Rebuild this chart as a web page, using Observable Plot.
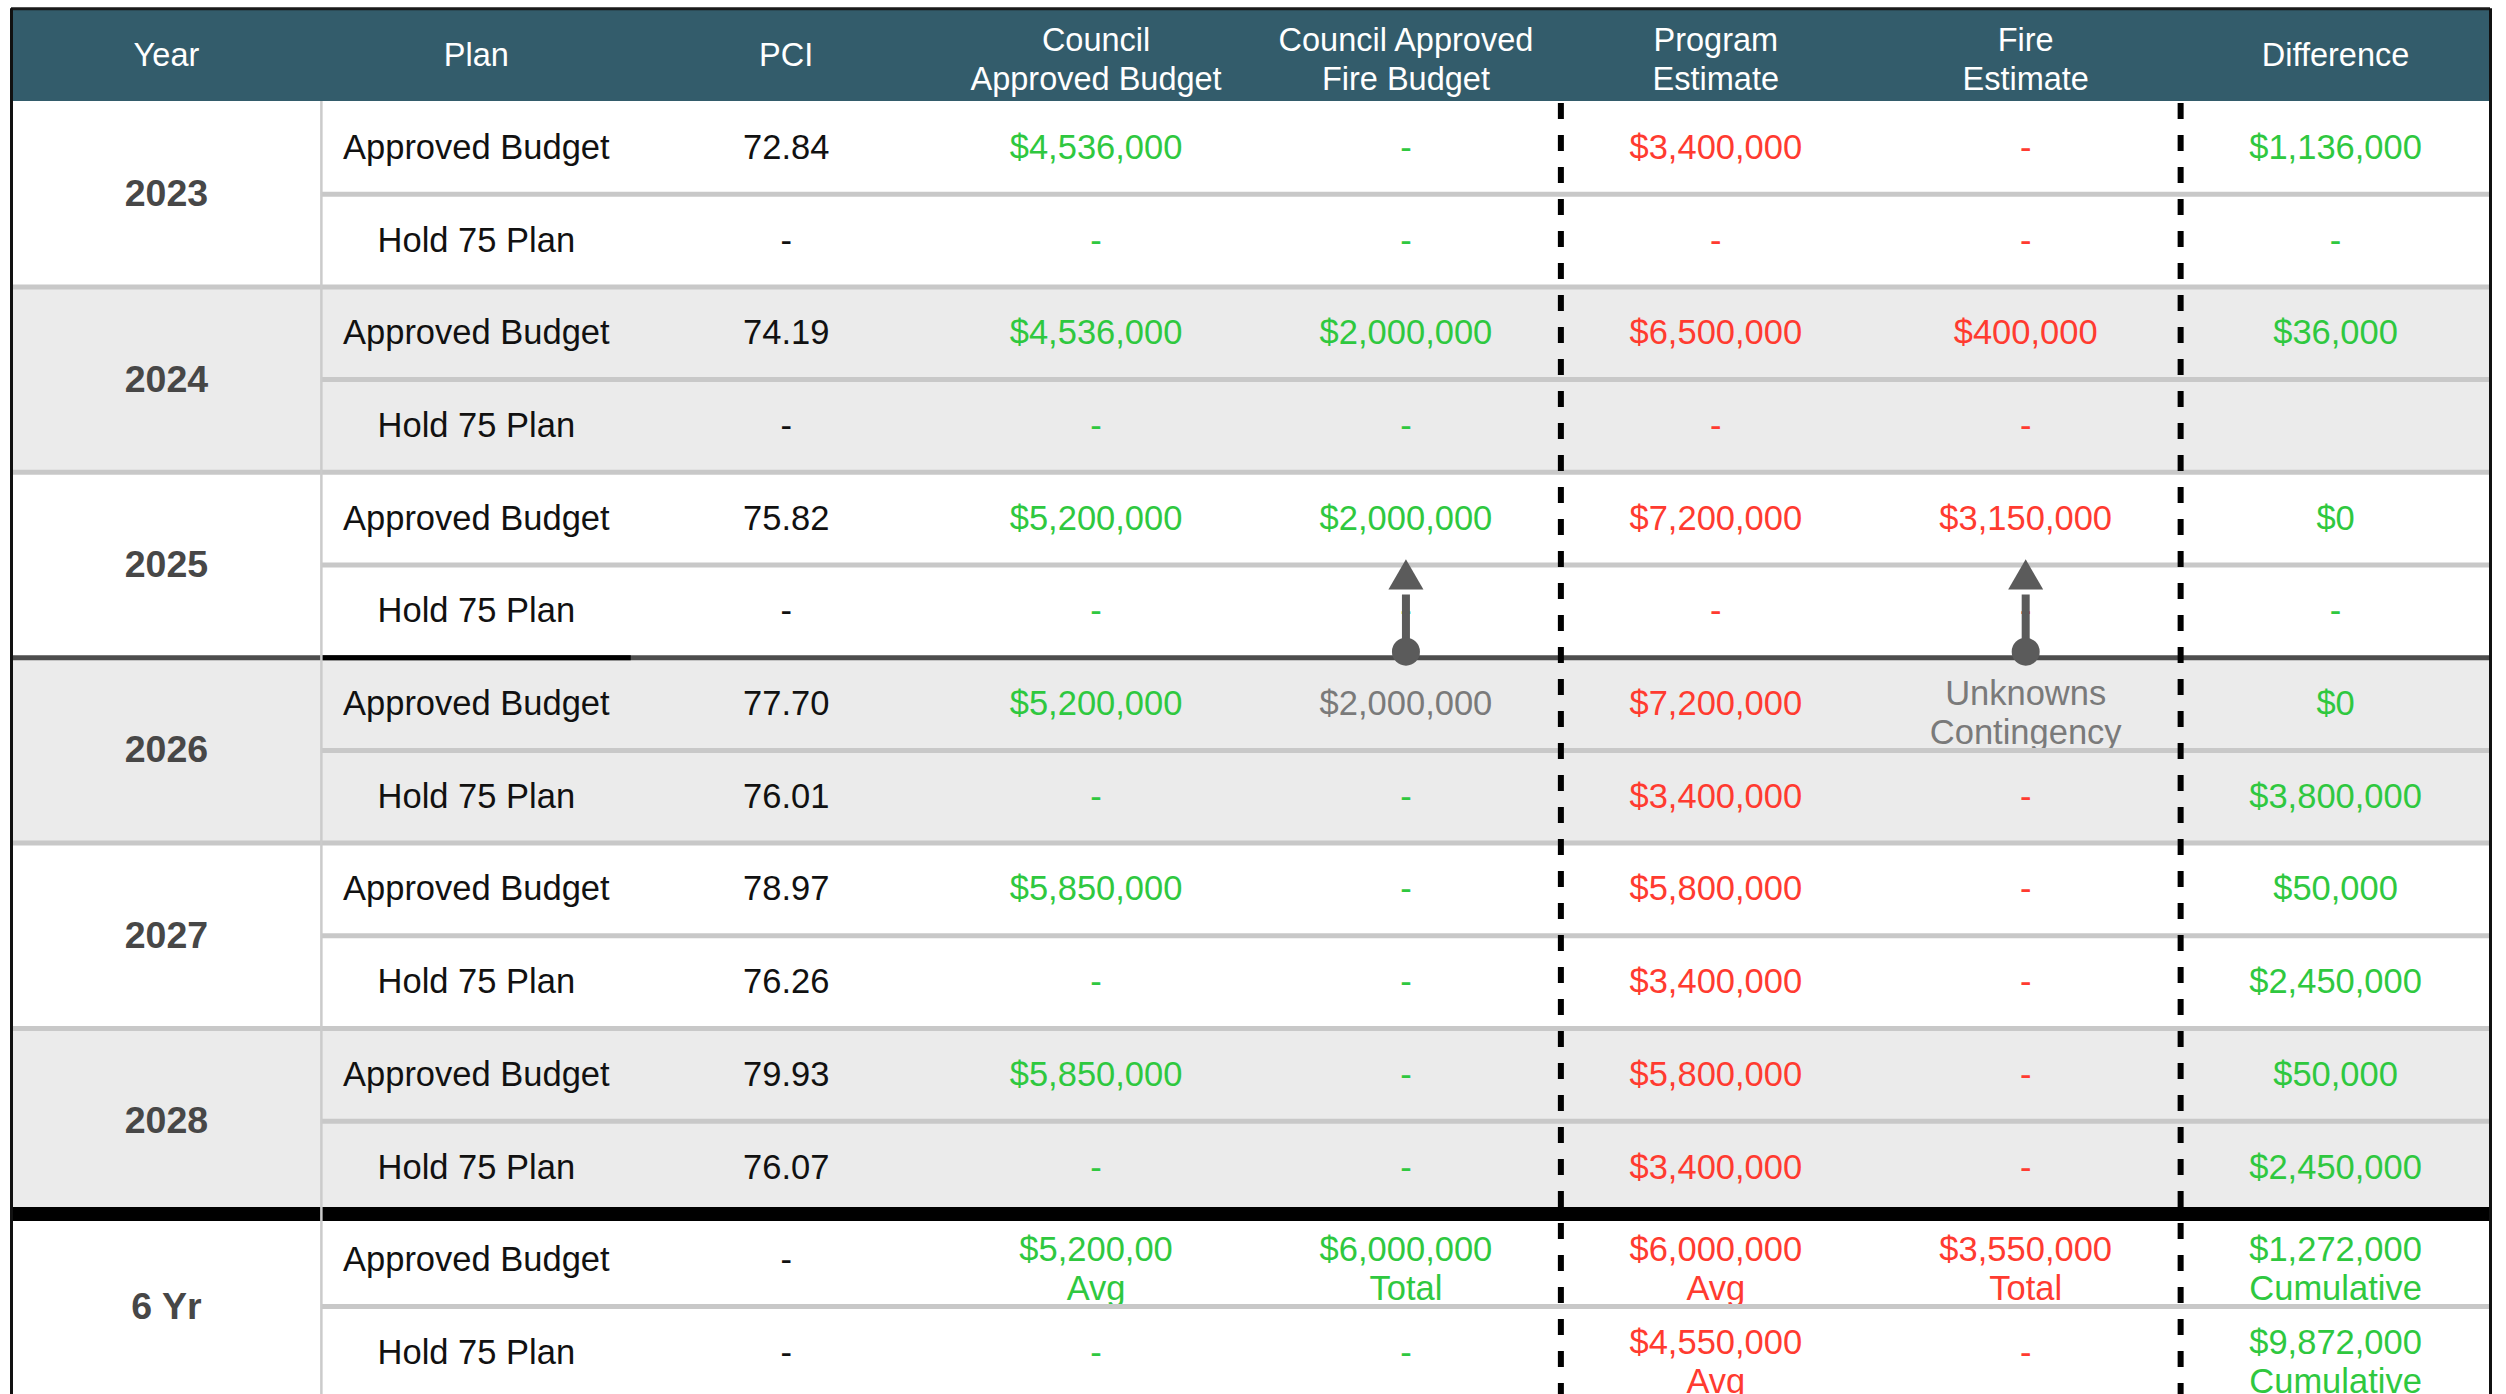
<!DOCTYPE html>
<html>
<head>
<meta charset="utf-8">
<script src="https://cdn.jsdelivr.net/npm/d3@7"></script>
<script src="https://cdn.jsdelivr.net/npm/@observablehq/plot@0.6"></script>
<style>
html, body { margin: 0; padding: 0; background: #ffffff; overflow: hidden; }
#chart svg { display: block; }
</style>
</head>
<body>
<div id="chart"></div>
<script>
// ---------------- DATA ----------------
const columns = [
  "Year", "Plan", "PCI",
  "Council\nApproved Budget", "Council Approved\nFire Budget",
  "Program\nEstimate", "Fire\nEstimate", "Difference"
];
const years = ["2023", "2024", "2025", "2026", "2027", "2028", "6 Yr"];
const plans = ["Approved Budget", "Hold 75 Plan"];

// one entry per row: [2023 Approved, 2023 Hold, 2024 Approved, 2024 Hold, ...]
const pci = ["72.84", "-", "74.19", "-", "75.82", "-", "77.70", "76.01", "78.97", "76.26", "79.93", "76.07", "-", "-"];
const councilBudget = ["$4,536,000", "-", "$4,536,000", "-", "$5,200,000", "-", "$5,200,000", "-", "$5,850,000", "-", "$5,850,000", "-", "$5,200,00\nAvg", "-"];
const councilFireBudget = ["-", "-", "$2,000,000", "-", "$2,000,000", "-", "$2,000,000", "-", "-", "-", "-", "-", "$6,000,000\nTotal", "-"];
const programEstimate = ["$3,400,000", "-", "$6,500,000", "-", "$7,200,000", "-", "$7,200,000", "$3,400,000", "$5,800,000", "$3,400,000", "$5,800,000", "$3,400,000", "$6,000,000\nAvg", "$4,550,000\nAvg"];
const fireEstimate = ["-", "-", "$400,000", "-", "$3,150,000", "-", "Unknowns\nContingency", "-", "-", "-", "-", "-", "$3,550,000\nTotal", "-"];
const difference = ["$1,136,000", "-", "$36,000", "", "$0", "-", "$0", "$3,800,000", "$50,000", "$2,450,000", "$50,000", "$2,450,000", "$1,272,000\nCumulative", "$9,872,000\nCumulative"];

// cells shown muted (carried forward / unknown): [column, row]
const mutedCells = [["Council Approved\nFire Budget", 6], ["Fire\nEstimate", 6]];
// arrows pushing 2026 fire money back into 2025
const arrowColumns = ["Council Approved\nFire Budget", "Fire\nEstimate"];
const arrowFromYear = "2026";
const arrowToYear = "2025";

// ---------------- STYLE ----------------
const W = 2506, H = 1394;
const rowTop = 101, rowH = 92.7;
const left = 11, right = 2490;
const FONT = "'Liberation Sans', Arimo, Arial, Helvetica, sans-serif";
const INK = "#111111", GREEN = "#2fc83f", RED = "#ff3b30", MUTED = "#7a7a7a";
const HEADER = "#335c6b", ZEBRA = "#ebebeb", SEP = "#c8c8c8", ARROW = "#5b5b5b";

const valueSeries = [pci, councilBudget, councilFireBudget, programEstimate, fireEstimate, difference];
const seriesColor = [INK, GREEN, GREEN, RED, RED, GREEN];
const nCols = columns.length;
const nRows = years.length * plans.length;

// ---------------- TABLE MODEL ----------------
const headers = columns.map((label, c) => ({c, label}));
const groups = years.map((year, g) => ({g, year, fill: g % 2 ? ZEBRA : "#ffffff"}));
const cells = [];
for (let r = 0; r < nRows; r++) {
  cells.push({c: 1, r, text: plans[r % plans.length], color: INK});
  valueSeries.forEach((arr, k) => {
    const c = k + 2;
    if (!arr[r]) return;
    const muted = mutedCells.some(([col, row]) => columns.indexOf(col) === c && row === r);
    cells.push({c, r, text: arr[r], color: muted ? MUTED : seriesColor[k]});
  });
}
const singleCells = cells.filter(d => !d.text.includes("\n"));
const multiCells = cells.filter(d => d.text.includes("\n"));

const subSeps = years.map((_, g) => g * 2 + 1);
const currentBoundary = years.indexOf(arrowFromYear) * 2;
const totalsBoundary = years.indexOf("6 Yr") * 2;
const groupSeps = years.map((_, g) => g * 2).filter(b => b > 0 && b !== currentBoundary && b !== totalsBoundary);
const dashedCols = [columns.indexOf("Program\nEstimate"), columns.indexOf("Difference")];
const arrows = arrowColumns.map(col => ({
  c: columns.indexOf(col),
  from: years.indexOf(arrowFromYear) * 2,
  to: years.indexOf(arrowToYear) * 2 + 1
}));
const px = v => v / rowH; // pixel offset in row units
const yBottom = (H - rowTop) / rowH;

const chart = Plot.plot({
  width: W,
  height: H,
  margin: 0,
  style: {fontFamily: FONT, background: "#ffffff"},
  x: {type: "linear", domain: [0, nCols], range: [left, right], axis: null},
  y: {type: "linear", domain: [-1, yBottom], range: [rowTop - rowH, H], axis: null},
  marks: [
    // backgrounds
    Plot.rect([0], {x1: 0, x2: nCols, y1: -1, y2: 0, fill: HEADER}),
    Plot.rect(groups, {x1: 0, x2: nCols, y1: d => d.g * 2, y2: d => d.g * 2 + 2, fill: "fill"}),

    // header labels
    Plot.text(headers.filter(d => !d.label.includes("\n")), {
      x: d => d.c + 0.5, y: -0.5, text: "label", fill: "#ffffff", fontSize: 32.5
    }),
    Plot.text(headers.filter(d => d.label.includes("\n")), {
      x: d => d.c + 0.5, y: -0.5, text: "label", fill: "#ffffff", fontSize: 32.5, lineHeight: 1.18, dy: 3
    }),

    // year labels
    Plot.text(groups, {
      x: 0.5, y: d => d.g * 2 + 1, text: "year", fill: "#474747", fontSize: 37.5, fontWeight: "bold"
    }),

    // body values
    Plot.text(singleCells, {
      x: d => d.c + 0.5, y: d => d.r + 0.5, text: "text", fill: "color", fontSize: 34.5
    }),
    Plot.text(multiCells, {
      x: d => d.c + 0.5, y: d => d.r + 0.5, text: "text", fill: "color", fontSize: 34.5, lineHeight: 1.13, dy: 8
    }),

    // horizontal separators
    Plot.ruleY(subSeps, {x1: 1, x2: nCols, stroke: SEP, strokeWidth: 5}),
    Plot.ruleY(groupSeps, {x1: 0, x2: nCols, stroke: SEP, strokeWidth: 5}),
    Plot.ruleY([currentBoundary], {x1: 0, x2: nCols, stroke: "#4d4d4d", strokeWidth: 5}),
    Plot.ruleY([currentBoundary], {x1: 1, x2: 2, stroke: "#000000", strokeWidth: 5}),
    Plot.ruleY([totalsBoundary], {x1: 0, x2: nCols, stroke: "#000000", strokeWidth: 14}),

    // vertical separators
    Plot.ruleX([1], {y1: 0, y2: nRows, stroke: "#cbcbcb", strokeWidth: 2.5}),
    Plot.ruleX(dashedCols, {y1: 0, y2: nRows, stroke: "#000000", strokeWidth: 6, strokeDasharray: "16,16", strokeDashoffset: -2}),

    // outer border
    Plot.ruleY([-1], {x1: 0, x2: nCols, stroke: "#1a1a1a", strokeWidth: 3}),
    Plot.ruleX([0, nCols], {y1: -1, y2: nRows, stroke: "#111111", strokeWidth: 3}),

    // arrows
    Plot.ruleX(arrows, {x: d => d.c + 0.5, y1: d => d.from - px(6), y2: d => d.to + px(30), stroke: ARROW, strokeWidth: 8}),
    Plot.dot(arrows, {x: d => d.c + 0.5, y: d => d.from - px(6), r: 14, fill: ARROW, stroke: null}),
    Plot.dot(arrows, {x: d => d.c + 0.5, y: d => d.to + px(14.5), r: 13, symbol: "triangle", fill: ARROW, stroke: null})
  ]
});
document.getElementById("chart").append(chart);
</script>
</body>
</html>
